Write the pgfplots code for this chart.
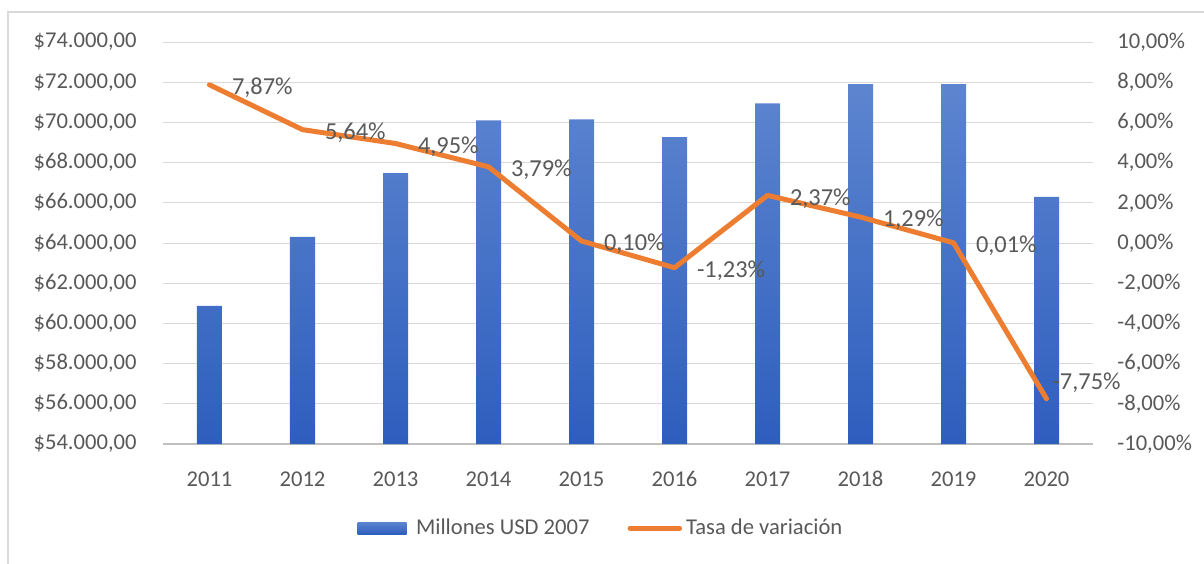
\documentclass[border=0pt]{standalone}
\usepackage{fontspec}
\setmainfont{Carlito}
\usepackage{pgfplots}
\usepackage{pgfplotstable}
\pgfplotsset{compat=1.18}

\definecolor{txt}{HTML}{595959}
\definecolor{grd}{HTML}{D9D9D9}
\definecolor{axl}{HTML}{BFBFBF}
\definecolor{frm}{HTML}{D9D9D9}
\definecolor{org}{HTML}{ED7D31}
\definecolor{bartop}{HTML}{5D85CF}
\definecolor{barbot}{HTML}{2E5EBE}

% Millones USD 2007
\pgfplotstableread{
idx val
0 60870
1 64300
2 67480
3 70100
4 70150
5 69270
6 70950
7 71900
8 71900
9 66300
}\gdp

\newcommand{\tickfont}{\fontsize{11.3}{13}\selectfont}
\newcommand{\labfont}{\fontsize{12.2}{14}\selectfont}

\begin{document}
\begin{tikzpicture}[x=1pt,y=1pt]
\useasboundingbox (0,0) rectangle (602,281.5);
\draw[frm, line width=0.8pt] (4,-10) |- (620,275.5);

% bars, left axis
\begin{axis}[
    at={(81.5pt,59.5pt)}, anchor=south west,
    scale only axis, width=465pt, height=201pt,
    xmin=-0.5, xmax=9.5,
    ymin=0, ymax=20000,
    scaled y ticks=false,
    xtick={0,...,9},
    xticklabels={2011,2012,2013,2014,2015,2016,2017,2018,2019,2020},
    ytick={0,2000,...,20000},
    yticklabels={{\$54.000,00},{\$56.000,00},{\$58.000,00},{\$60.000,00},{\$62.000,00},{\$64.000,00},{\$66.000,00},{\$68.000,00},{\$70.000,00},{\$72.000,00},{\$74.000,00}},
    axis x line*=bottom, axis y line*=left,
    x axis line style={axl, line width=0.8pt, -},
    y axis line style={draw=none},
    major tick length=0pt,
    ymajorgrids, grid style={grd, line width=0.5pt},
    yticklabel style={font=\tickfont, text=txt, inner sep=0pt, anchor=east, xshift=-13pt},
    xticklabel style={font=\tickfont, text=txt, inner sep=0pt, anchor=north, yshift=-13.5pt},
    clip=false,
]
\addplot[ybar, bar width=12.5pt, draw=none, top color=bartop, bottom color=barbot,
    y filter/.code={\pgfmathparse{\pgfmathresult-54000}}]
    table[x=idx, y=val] {\gdp};
\end{axis}

% line, right axis
\begin{axis}[
    at={(81.5pt,59.5pt)}, anchor=south west,
    scale only axis, width=465pt, height=201pt,
    xmin=-0.5, xmax=9.5,
    ymin=-10, ymax=10,
    axis x line=none,
    axis y line*=right,
    y axis line style={draw=none},
    major tick length=0pt,
    ytick={-10,-8,...,10},
    yticklabels={{-10,00\%},{-8,00\%},{-6,00\%},{-4,00\%},{-2,00\%},{0,00\%},{2,00\%},{4,00\%},{6,00\%},{8,00\%},{10,00\%}},
    yticklabel style={font=\tickfont, text=txt, inner sep=0pt, anchor=west, xshift=12pt},
    clip=false,
    legend columns=2,
    legend style={at={(0.472,-0.209)}, anchor=center, draw=none, fill=none,
        font=\tickfont, text=txt,
        /tikz/every even column/.append style={column sep=17pt}},
]
\addlegendimage{legend image code/.code={\shade[draw=none, top color=bartop, bottom color=barbot] (0pt,-3pt) rectangle (24.5pt,3pt); \path (27pt,0pt);}}
\addlegendentry{Millones USD 2007}
\addplot[org, line width=2.5pt, line join=round, line cap=round,
    nodes near coords, point meta=explicit symbolic,
    nodes near coords style={anchor=west, xshift=10pt, yshift=-1.5pt, font=\labfont, text=txt, inner sep=0pt},
    legend image code/.code={\draw[org, line width=2.5pt, line cap=round] (1.25pt,0pt) -- (26pt,0pt);}]
coordinates {
(0,7.87) [7,87\%]
(1,5.64) [5,64\%]
(2,4.95) [4,95\%]
(3,3.79) [3,79\%]
(4,0.10) [0,10\%]
(5,-1.23) [-1,23\%]
(6,2.37) [2,37\%]
(7,1.29) [1,29\%]
(8,0.01) [0,01\%]
(9,-7.75) []
};
\addlegendentry{Tasa de variación}
% label of the last point sits higher, as in the reference
\addplot[draw=none, forget plot,
    nodes near coords, point meta=explicit symbolic,
    nodes near coords style={anchor=west, xshift=2.8pt, yshift=8pt, font=\labfont, text=txt, inner sep=0pt}]
coordinates {(9,-7.75) [-7,75\%]};
\end{axis}
\end{tikzpicture}
\end{document}
